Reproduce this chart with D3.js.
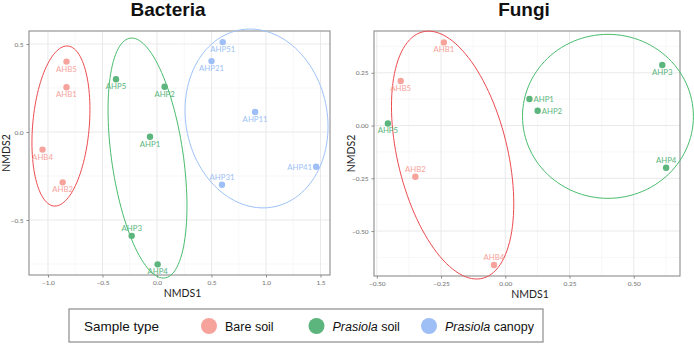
<!DOCTYPE html>
<html><head><meta charset="utf-8">
<script src="https://cdn.jsdelivr.net/npm/d3@7"></script>
<style>body{margin:0;background:#fff}svg{display:block}</style>
</head><body>
<svg id="c" width="694" height="344"></svg>
<script>
// ---------- DATA ----------
const groups = ["Bare soil", "Prasiola soil", "Prasiola canopy"];
const pointColors = ["#F6A39C", "#5BB57C", "#9EBFF6"];
const ellipseColors = ["#EC4B50", "#48BC6C", "#9EC2FA"];

// Bacteria
const bacLabels = ["AHB5","AHB1","AHB4","AHB2","AHP5","AHP2","AHP1","AHP3","AHP4","AHP51","AHP21","AHP11","AHP31","AHP41"];
const bacGroup  = [0,0,0,0,1,1,1,1,1,2,2,2,2,2];
const bacX = [-0.83,-0.83,-1.05,-0.865,-0.376,0.07,-0.064,-0.232,0.006,0.603,0.50,0.90,0.596,1.46];
const bacY = [0.40,0.254,-0.10,-0.286,0.30,0.257,-0.027,-0.59,-0.752,0.511,0.403,0.114,-0.30,-0.197];
const bacLabelPos = ["below","below","below","below","below","below","below","above","below","below","below","below","above","left"];
// ellipses: centre + two conjugate semi-axis vectors (data units)
const bacEllCx = [-0.881, -0.087, 0.913];
const bacEllCy = [0.034, -0.148, 0.077];
const bacEllU  = [[0.266, 0.094], [0.362, -0.273], [0.656, -0.0463]];
const bacEllV  = [[0, -0.445], [0, -0.625], [0, -0.506]];
const bacXTicks = [-1.0, -0.5, 0.0, 0.5, 1.0, 1.5];
const bacYTicks = [-0.5, 0.0, 0.5];

// Fungi
const funLabels = ["AHB1","AHB5","AHB2","AHB4","AHP5","AHP1","AHP2","AHP3","AHP4"];
const funGroup  = [0,0,0,0,1,1,1,1,1];
const funX = [-0.239,-0.407,-0.350,-0.044,-0.457,0.094,0.126,0.611,0.626];
const funY = [0.394,0.211,-0.243,-0.661,0.010,0.126,0.070,0.287,-0.200];
const funLabelPos = ["below","below","above","above","below","right","right","below","above"];
const funEllCx = [-0.205, 0.3996];
const funEllCy = [-0.140, 0.0436];
const funEllU  = [[0.238, -0.231], [0.3326, 0]];
const funEllV  = [[0, -0.540], [0, 0.3886]];
const funXTicks = [-0.50, -0.25, 0.00, 0.25, 0.50];
const funYTicks = [-0.50, -0.25, 0.00, 0.25];

// ---------- DRAW ----------
const svg = d3.select("#c");

function panel(o) {
  const g = svg.append("g");
  const x = d3.scaleLinear().domain(o.xDomain).range([o.left, o.right]);
  const y = d3.scaleLinear().domain(o.yDomain).range([o.bottom, o.top]);
  // minor grid
  const minorX = [], minorY = [];
  const sx = o.xTicks[1]-o.xTicks[0], sy = o.yTicks[1]-o.yTicks[0];
  for (let v = o.xTicks[0]-sx/2; v <= o.xDomain[1]; v += sx) if (v >= o.xDomain[0]) minorX.push(v);
  for (let v = o.yTicks[0]-sy/2; v <= o.yDomain[1]; v += sy) if (v >= o.yDomain[0]) minorY.push(v);
  g.selectAll(".mx").data(minorX).join("line").attr("x1", d=>x(d)).attr("x2", d=>x(d))
    .attr("y1", o.top).attr("y2", o.bottom).attr("stroke", "#f2f2f2").attr("stroke-width", 0.6);
  g.selectAll(".my").data(minorY).join("line").attr("y1", d=>y(d)).attr("y2", d=>y(d))
    .attr("x1", o.left).attr("x2", o.right).attr("stroke", "#f2f2f2").attr("stroke-width", 0.6);
  g.selectAll(".gx").data(o.xTicks).join("line").attr("x1", d=>x(d)).attr("x2", d=>x(d))
    .attr("y1", o.top).attr("y2", o.bottom).attr("stroke", "#e6e6e6").attr("stroke-width", 0.9);
  g.selectAll(".gy").data(o.yTicks).join("line").attr("y1", d=>y(d)).attr("y2", d=>y(d))
    .attr("x1", o.left).attr("x2", o.right).attr("stroke", "#e6e6e6").attr("stroke-width", 0.9);

  // axes
  const ax = g.append("g").attr("transform", `translate(0,${o.bottom})`)
    .call(d3.axisBottom(x).tickValues(o.xTicks).tickFormat(o.fmt).tickSize(2.5).tickPadding(3));
  const ay = g.append("g").attr("transform", `translate(${o.left},0)`)
    .call(d3.axisLeft(y).tickValues(o.yTicks).tickFormat(o.fmt).tickSize(2.5).tickPadding(3));
  [ax, ay].forEach(a => {
    a.select(".domain").remove();
    a.selectAll(".tick line").attr("stroke", "#8a8a8a");
    a.selectAll(".tick text").attr("fill", "#6e6e6e").attr("font-size", 6.5)
      .attr("font-family", "Lato, 'Open Sans', sans-serif");
  });
  // border
  g.append("rect").attr("x", o.left).attr("y", o.top).attr("width", o.right-o.left)
    .attr("height", o.bottom-o.top).attr("fill", "none").attr("stroke", "#8c8c8c").attr("stroke-width", 1.1);

  // ellipses
  const line = d3.line().x(d=>x(d[0])).y(d=>y(d[1]));
  const ts = d3.range(0, 361, 3).map(a => a*Math.PI/180);
  o.ell.cx.forEach((cx, i) => {
    const cy = o.ell.cy[i], u = o.ell.u[i], v = o.ell.v[i];
    const pts = ts.map(t => [cx + u[0]*Math.cos(t) + v[0]*Math.sin(t), cy + u[1]*Math.cos(t) + v[1]*Math.sin(t)]);
    g.append("path").attr("d", line(pts)).attr("fill", "none")
      .attr("stroke", ellipseColors[o.ell.group[i]]).attr("stroke-width", 1);
  });

  // points
  const data = o.labels.map((l, i) => ({l, g: o.group[i], x: o.xs[i], y: o.ys[i], p: o.pos[i]}));
  g.selectAll(".pt").data(data).join("circle").attr("cx", d=>x(d.x)).attr("cy", d=>y(d.y))
    .attr("r", 3.2).attr("fill", d=>pointColors[d.g]);
  g.selectAll(".lb").data(data).join("text")
    .attr("x", d => x(d.x) + (d.p==="left" ? -4 : d.p==="right" ? 4 : 0))
    .attr("y", d => y(d.y) + (d.p==="below" ? 10 : d.p==="above" ? -5 : 3))
    .attr("text-anchor", d => d.p==="left" ? "end" : d.p==="right" ? "start" : "middle")
    .attr("font-size", 7.8).attr("font-family", "Lato, 'Open Sans', sans-serif")
    .attr("fill", d=>pointColors[d.g]).text(d=>d.l);

  // titles
  svg.append("text").attr("x", o.titleX).attr("y", 15.5).attr("text-anchor", "middle")
    .attr("font-family", "'Liberation Sans', Arial, sans-serif").attr("font-weight", "bold")
    .attr("font-size", 19).attr("fill", "#111").text(o.title);
  svg.append("text").attr("x", (o.left+o.right)/2 + 3).attr("y", o.bottom + 22).attr("text-anchor", "middle")
    .attr("font-family", "Lato, 'Open Sans', sans-serif").attr("font-size", 10.5).attr("fill", "#222").text("NMDS1");
  svg.append("text").attr("transform", `translate(${o.left-19},${(o.top+o.bottom)/2}) rotate(-90)`)
    .attr("text-anchor", "middle").attr("font-family", "Lato, 'Open Sans', sans-serif")
    .attr("font-size", 10.5).attr("fill", "#222").text("NMDS2");
}

panel({left: 29, right: 330, top: 31, bottom: 275,
  xDomain: [-1.174, 1.587], yDomain: [-0.8125, 0.574],
  xTicks: bacXTicks, yTicks: bacYTicks, fmt: d3.format(".1f"),
  labels: bacLabels, group: bacGroup, xs: bacX, ys: bacY, pos: bacLabelPos,
  ell: {cx: bacEllCx, cy: bacEllCy, u: bacEllU, v: bacEllV, group: [0,1,2]},
  title: "Bacteria", titleX: 168});

panel({left: 374, right: 680, top: 31, bottom: 276,
  xDomain: [-0.511, 0.680], yDomain: [-0.713, 0.448],
  xTicks: funXTicks, yTicks: funYTicks, fmt: d3.format(".2f"),
  labels: funLabels, group: funGroup, xs: funX, ys: funY, pos: funLabelPos,
  ell: {cx: funEllCx, cy: funEllCy, u: funEllU, v: funEllV, group: [0,1]},
  title: "Fungi", titleX: 524});

// legend
const lg = svg.append("g");
lg.append("rect").attr("x", 69).attr("y", 309).attr("width", 474).attr("height", 33)
  .attr("fill", "#fff").attr("stroke", "#8c8c8c").attr("stroke-width", 1.2);
lg.append("text").attr("x", 84).attr("y", 331).attr("font-family", "'Liberation Sans', Arial, sans-serif")
  .attr("font-size", 13.5).attr("fill", "#111").text("Sample type");
const legCx = [209, 316.5, 429];
groups.forEach((gname, i) => {
  lg.append("circle").attr("cx", legCx[i]).attr("cy", 326).attr("r", 8).attr("fill", pointColors[i]);
  const t = lg.append("text").attr("x", legCx[i] + 16).attr("y", 330.5)
    .attr("font-family", "'Liberation Sans', Arial, sans-serif").attr("font-size", 12.5).attr("fill", "#111");
  if (gname.startsWith("Prasiola")) {
    t.append("tspan").attr("font-style", "italic").text("Prasiola");
    t.append("tspan").text(gname.slice(8));
  } else t.text(gname);
});
</script>
</body></html>
